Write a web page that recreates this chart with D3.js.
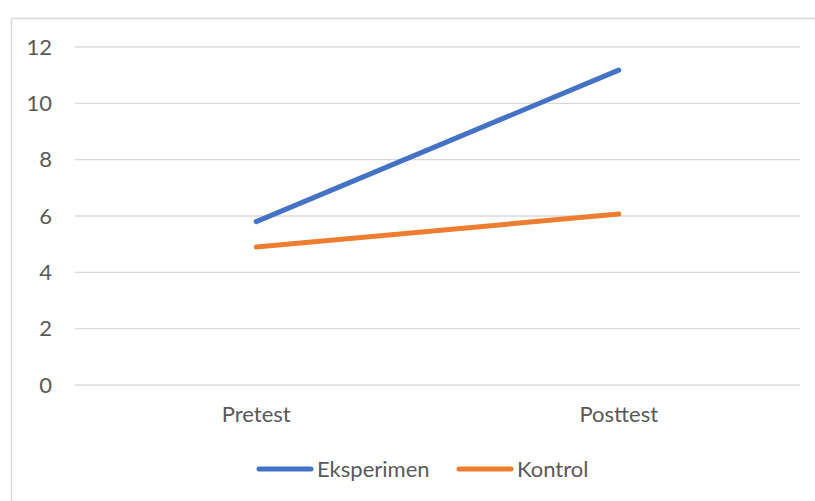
<!DOCTYPE html>
<html>
<head>
<meta charset="utf-8">
<script src="https://cdn.jsdelivr.net/npm/d3@7"></script>
<style>
  body { margin: 0; background: #fff; }
  text { font-family: Lato, "Liberation Sans", sans-serif; fill: #595959; }
</style>
</head>
<body>
<svg id="chart"></svg>
<script>
// data
var categories = ["Pretest", "Posttest"];
var seriesNames = ["Eksperimen", "Kontrol"];
var eksperimen = [5.8, 11.18];
var kontrol = [4.9, 6.07];
var yTicks = [0, 2, 4, 6, 8, 10, 12];
var colors = ["#4472C4", "#ED7D31"];

var W = 815, H = 501;
var margin = {top: 47, right: 15, bottom: 116, left: 75},
    width = W - margin.left - margin.right,
    height = H - margin.top - margin.bottom;
var fontSize = 22;

var svg = d3.select("#chart").attr("width", W).attr("height", H);

// chart border
svg.append("rect")
  .attr("x", 11.5).attr("y", 18.5)
  .attr("width", 820).attr("height", 500)
  .attr("fill", "none").attr("stroke", "#d9d9d9").attr("stroke-width", 1.5);

var g = svg.append("g")
  .attr("transform", "translate(" + margin.left + "," + margin.top + ")");

var x = d3.scaleBand().domain(categories).range([0, width]);
var y = d3.scaleLinear().domain([0, 12]).range([height, 0]);

// gridlines
g.selectAll(".grid")
  .data(yTicks)
  .enter().append("line")
  .attr("x1", 0).attr("x2", width)
  .attr("y1", function(d) { return y(d); })
  .attr("y2", function(d) { return y(d); })
  .attr("stroke", "#d9d9d9").attr("stroke-width", 1.3);

// y axis labels
var yAxis = g.append("g")
  .call(d3.axisLeft(y).tickValues(yTicks).tickSize(0).tickPadding(23));
yAxis.select(".domain").remove();
yAxis.selectAll("text").attr("font-size", fontSize).attr("font-family", null).attr("fill", "#595959");

// x axis labels
var xAxis = g.append("g")
  .attr("transform", "translate(0," + height + ")")
  .call(d3.axisBottom(x).tickSize(0).tickPadding(21));
xAxis.select(".domain").remove();
xAxis.selectAll("text").attr("font-size", fontSize).attr("font-family", null).attr("fill", "#595959");

var allSeries = [eksperimen, kontrol];

var line = d3.line()
  .x(function(d, i) { return x(categories[i]) + x.bandwidth() / 2; })
  .y(function(d) { return y(d); });

g.selectAll(".series")
  .data(allSeries)
  .enter().append("path")
  .attr("d", line)
  .attr("fill", "none")
  .attr("stroke", function(d, i) { return colors[i]; })
  .attr("stroke-width", 5)
  .attr("stroke-linecap", "round");

// legend
var legendX = [259, 459];
var legend = svg.selectAll(".legend")
  .data(seriesNames)
  .enter().append("g")
  .attr("transform", function(d, i) { return "translate(" + legendX[i] + ",469)"; });

legend.append("line")
  .attr("x1", 0).attr("x2", 52)
  .attr("stroke", function(d, i) { return colors[i]; })
  .attr("stroke-width", 5)
  .attr("stroke-linecap", "round");

legend.append("text")
  .attr("x", 58).attr("dy", "0.35em")
  .attr("font-size", fontSize)
  .text(function(d) { return d; });
</script>
</body>
</html>
